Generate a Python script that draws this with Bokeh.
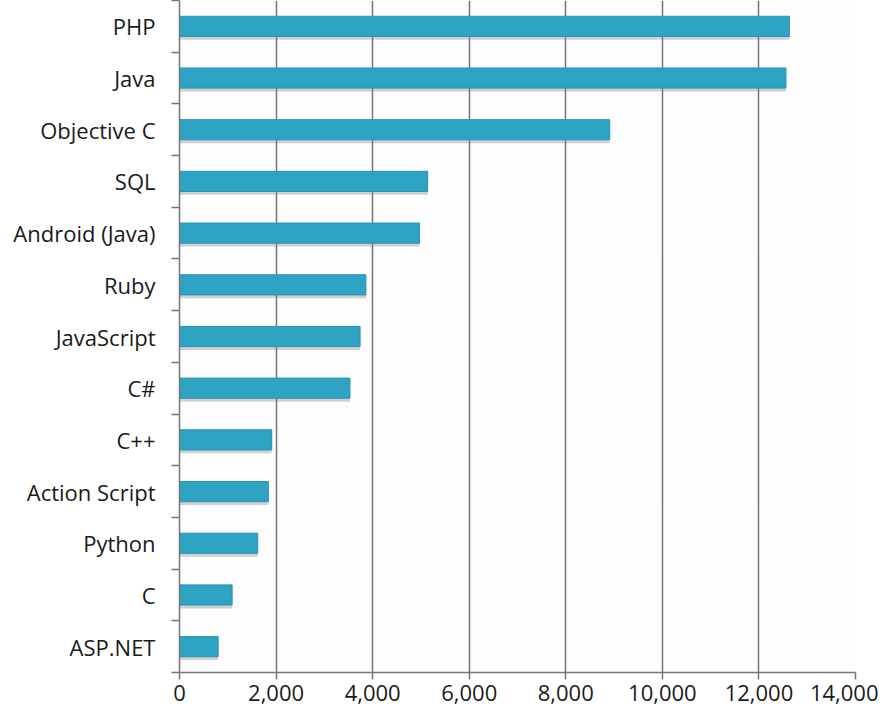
from bokeh.plotting import figure
from bokeh.models import ColumnDataSource, FixedTicker, NumeralTickFormatter, Range1d
from bokeh.transform import dodge
from bokeh.embed import file_html
from bokeh.resources import INLINE

languages = ["PHP", "Java", "Objective C", "SQL", "Android (Java)", "Ruby",
             "JavaScript", "C#", "C++", "Action Script", "Python", "C", "ASP.NET"]
counts = [12630, 12560, 8910, 5140, 4970, 3860, 3740, 3530, 1910, 1840, 1620, 1090, 800]
x_ticks = [0, 2000, 4000, 6000, 8000, 10000, 12000, 14000]

n = len(languages)
ypos = [n - i - 0.5 for i in range(n)]
source = ColumnDataSource(dict(y=ypos, v=counts, lang=languages))

FONT = "Open Sans"

p = figure(width=878, height=712, output_backend="svg", toolbar_location=None,
           x_range=Range1d(0, 14000), y_range=Range1d(0, n),
           min_border_left=179, min_border_right=23, min_border_top=0, min_border_bottom=40)
p.outline_line_color = None
p.background_fill_color = "#fdfdfd"
p.border_fill_color = "white"

# shadow
p.hbar(y=dodge("y", -0.07, range=p.y_range), right="v", left=0, height=0.38,
       source=source, fill_color="#7a7a7a", fill_alpha=0.35, line_color=None)
p.hbar(y="y", right="v", left=0, height=0.39, source=source,
       fill_color="#2FA3C4", line_color="#2a93b2", line_width=1)

# x axis
p.xaxis.ticker = FixedTicker(ticks=x_ticks)
p.xaxis.formatter = NumeralTickFormatter(format="0,0")
p.xaxis.axis_line_color = "#767676"
p.xaxis.axis_line_width = 1.5
p.xaxis.major_tick_line_color = "#767676"
p.xaxis.major_tick_line_width = 1.5
p.xaxis.major_tick_out = 7
p.xaxis.major_tick_in = 0
p.xaxis.minor_tick_line_color = None
p.xaxis.major_label_text_font = FONT
p.xaxis.major_label_text_font_size = "22px"
p.xaxis.major_label_text_color = "#1a1a1a"
p.xaxis.major_label_standoff = 5

# y axis with labels at category centers, ticks at boundaries
p.yaxis.ticker = FixedTicker(ticks=ypos, minor_ticks=list(range(n + 1)))
p.yaxis.major_label_overrides = {y: l for y, l in zip(ypos, languages)}
p.yaxis.axis_line_color = "#767676"
p.yaxis.axis_line_width = 1.5
p.yaxis.major_tick_line_color = None
p.yaxis.major_tick_out = 0
p.yaxis.major_tick_in = 0
p.yaxis.minor_tick_line_color = "#767676"
p.yaxis.minor_tick_line_width = 1.5
p.yaxis.minor_tick_out = 8
p.yaxis.minor_tick_in = 0
p.yaxis.major_label_text_font = FONT
p.yaxis.major_label_text_font_size = "22px"
p.yaxis.major_label_text_color = "#1a1a1a"
p.yaxis.major_label_standoff = 16

p.xgrid.ticker = FixedTicker(ticks=x_ticks)
p.xgrid.grid_line_color = "#767676"
p.xgrid.grid_line_width = 1.5
p.ygrid.grid_line_color = None

open("out.html", "w").write(file_html(p, INLINE))
